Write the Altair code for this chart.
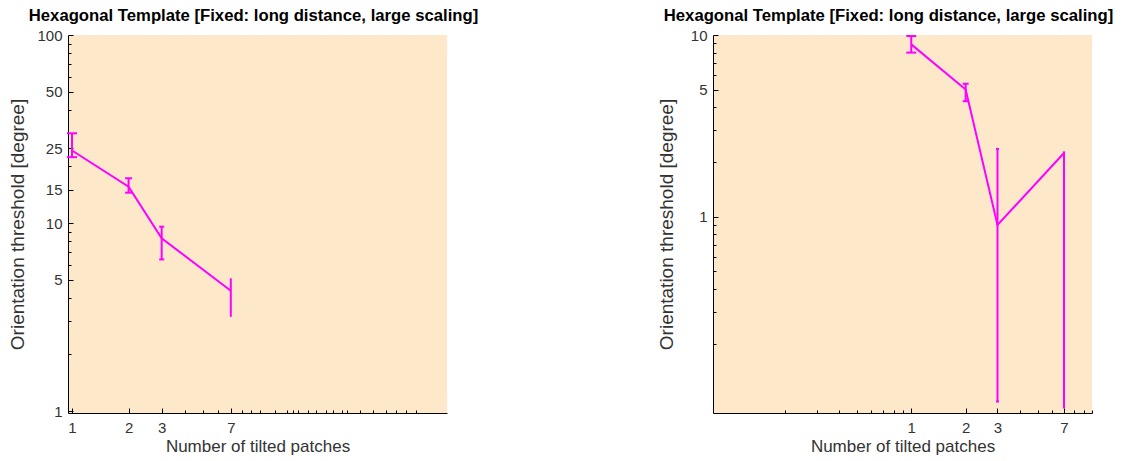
import altair as alt
import pandas as pd

TITLE = "Hexagonal Template [Fixed: long distance, large scaling]"
X_TITLE = "Number of tilted patches"
Y_TITLE = "Orientation threshold [degree]"

# ---- left panel data ----
left_x = [1, 2, 3, 7]
left_y = [24.3, 15.6, 8.3, 4.36]
left_lo = [22.4, 14.5, 6.4, 3.17]
left_hi = [30.0, 17.3, 9.56, 5.08]

# ---- right panel data ----
right_x = [1, 2, 3, 7]
right_y = [8.88, 5.01, 0.90, 2.24]
right_lo = [8.0, 4.32, 0.096, 0.089]
right_hi = [9.87, 5.39, 2.36, 2.26]

# ---- tick values ----
left_xticks_major = [1, 2, 3, 7]
left_xticks_minor = [4, 5, 6, 8, 9, 10, 12, 14, 15, 16, 18, 20, 22.5, 24.5, 27.5, 29, 34, 40, 47, 53, 60, 68]
left_yticks_major = [1, 5, 10, 15, 25, 50, 100]
left_yticks_minor = [2, 3, 4, 6, 7, 8, 9, 20, 30, 40, 60, 70, 80, 90]
right_xticks_major = [1, 2, 3, 7]
right_xticks_minor = [0.2, 0.3, 0.4, 0.5, 0.6, 0.7, 0.8, 0.9, 4, 5, 6, 8, 9, 10]
right_yticks_major = [1, 5, 10]
right_yticks_minor = [0.2, 0.3, 0.4, 0.5, 0.6, 0.7, 0.8, 0.9, 2, 3, 4, 6, 7, 8, 9]

# ---- styling ----
left_caps = [10, 7, 5, 0]
right_caps = [10, 6, 3, 2]
MAG = "#FF00FF"
BG = "#FDE9C9"
FONT = "Liberation Sans"
TXT = "#333333"


def panel(xs, ys, lo, hi, caps, xdom, ydom, xmaj, xmin, ymaj, ymin, ytp, tdx):
    df = pd.DataFrame({"x": xs, "y": ys, "lo": lo, "hi": hi, "cap": caps})
    sx = alt.Scale(type="log", domain=xdom, nice=False)
    sy = alt.Scale(type="log", domain=ydom, nice=False)
    common = dict(labelFont=FONT, titleFont=FONT, labelColor=TXT, titleColor=TXT,
                  grid=False, domainColor="black", labelOverlap=False, labelFlush=False,
                  titleFontWeight="normal", format="~g")
    main_x = alt.Axis(values=xmaj, ticks=False, labelFontSize=15, titleFontSize=17,
                      labelPadding=7, titlePadding=3, **common)
    main_y = alt.Axis(values=ymaj, ticks=False, labelFontSize=15, titleFontSize=19,
                      labelPadding=6, titlePadding=ytp, **common)
    line = alt.Chart(df).mark_line(color=MAG, strokeWidth=2).encode(
        x=alt.X("x:Q", scale=sx, axis=main_x, title=X_TITLE),
        y=alt.Y("y:Q", scale=sy, axis=main_y, title=Y_TITLE),
    )
    nx = alt.X("x:Q", scale=sx, axis=None)
    bars = alt.Chart(df).mark_rule(color=MAG, strokeWidth=2).encode(
        x=nx, y=alt.Y("lo:Q", scale=sy, axis=None), y2="hi:Q"
    )
    cap_lo = alt.Chart(df).transform_filter("datum.cap > 0").mark_tick(
        orient="horizontal", color=MAG, thickness=2, opacity=1
    ).encode(x=nx, y=alt.Y("lo:Q", scale=sy, axis=None),
             size=alt.Size("cap:Q", scale=None, legend=None))
    cap_hi = alt.Chart(df).transform_filter("datum.cap > 0").mark_tick(
        orient="horizontal", color=MAG, thickness=2, opacity=1
    ).encode(x=nx, y=alt.Y("hi:Q", scale=sy, axis=None),
             size=alt.Size("cap:Q", scale=None, legend=None))

    def tick_layer(xv, yv, size):
        ax = alt.Axis(orient="bottom", values=xv, offset=-size, tickSize=size, labels=False,
                      domain=False, title=None, grid=False, tickColor="black", tickWidth=1)
        ay = alt.Axis(orient="left", values=yv, offset=-size, tickSize=size, labels=False,
                      domain=False, title=None, grid=False, tickColor="black", tickWidth=1)
        return alt.Chart(df).mark_point(opacity=0).encode(
            x=alt.X("x:Q", scale=sx, axis=ax),
            y=alt.Y("y:Q", scale=sy, axis=ay),
        )

    ticks_major = tick_layer(xmaj, ymaj, 5)
    ticks_minor = tick_layer(xmin, ymin, 3)

    return alt.layer(line, bars, cap_lo, cap_hi, ticks_major, ticks_minor).resolve_axis(
        x="independent", y="independent"
    ).properties(
        width=379, height=378,
        title=alt.TitleParams(TITLE, font=FONT, fontSize=16.7, fontWeight="bold", color="black",
                              anchor="middle", frame="group", dx=tdx, offset=3),
    )


left = panel(left_x, left_y, left_lo, left_hi, left_caps, [0.952, 99.0], [0.976, 100],
             left_xticks_major, left_xticks_minor, left_yticks_major, left_yticks_minor, 9, -4)
right = panel(right_x, right_y, right_lo, right_hi, right_caps, [0.08, 10], [0.083, 10],
              right_xticks_major, right_xticks_minor, right_yticks_major, right_yticks_minor, 14, -14)

chart = alt.hconcat(left, right, spacing=178).configure_view(
    fill=BG, stroke=None
).properties(padding={"left": 8, "top": 8, "right": 5, "bottom": 5})

chart.save("out.html", embed_options={"renderer": "svg", "actions": False})
